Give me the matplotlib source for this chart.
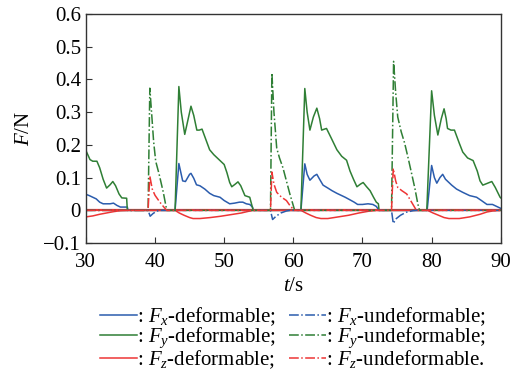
import numpy as np
import matplotlib
matplotlib.use('Agg')
import matplotlib.pyplot as plt

plt.rcParams['font.family'] = ['Liberation Serif', 'DejaVu Serif']
plt.rcParams['mathtext.fontset'] = 'custom'
plt.rcParams['mathtext.rm'] = 'Liberation Serif'
plt.rcParams['mathtext.it'] = 'Liberation Serif:italic'

# Datos (t [s], F [N])
t_fx_d = [30.0, 30.5, 31.0, 31.5, 32.0, 32.5, 33.5, 34.0, 34.5, 35.0, 36.0, 36.1,
          42.9, 43.45, 44.0, 44.4, 45.0, 45.2, 45.6, 46.0, 46.5, 47.2, 47.9, 48.5,
          49.4, 50.0, 50.8, 51.5, 52.2, 52.7, 53.2, 53.7, 54.1, 54.2,
          61.1, 61.66, 62.0, 62.4, 63.0, 63.4, 63.8, 64.3, 65.0, 65.6, 66.3, 67.0,
          67.5, 68.2, 68.8, 69.3, 70.0, 70.8, 71.5, 72.0, 72.4,
          79.35, 80.0, 80.4, 80.75, 81.2, 81.6, 82.0, 82.9, 83.6, 84.5, 85.5, 86.5,
          87.2, 88.0, 88.8, 89.4, 90.0]
fx_d = [0.049, 0.045, 0.040, 0.035, 0.025, 0.020, 0.020, 0.022, 0.015, 0.010, 0.010, 0.0,
        0.0, 0.143, 0.090, 0.088, 0.110, 0.113, 0.098, 0.078, 0.075, 0.065, 0.052, 0.045,
        0.040, 0.030, 0.020, 0.022, 0.025, 0.025, 0.020, 0.018, 0.010, 0.0,
        0.0, 0.142, 0.110, 0.092, 0.105, 0.110, 0.095, 0.077, 0.068, 0.060, 0.052, 0.045,
        0.040, 0.032, 0.025, 0.018, 0.018, 0.020, 0.018, 0.012, 0.0,
        0.0, 0.137, 0.100, 0.083, 0.100, 0.110, 0.095, 0.077, 0.065, 0.055, 0.045, 0.040,
        0.030, 0.018, 0.018, 0.012, 0.006]

t_fy_d = [30.0, 30.6, 31.0, 31.6, 32.0, 32.5, 33.0, 33.5, 33.9, 34.3, 34.8, 35.2, 35.9, 36.0,
          42.9, 43.45, 43.8, 44.3, 44.7, 45.2, 45.6, 46.05, 46.4, 46.8, 47.2, 47.9, 48.5,
          49.0, 49.4, 50.0, 50.4, 50.8, 51.1, 51.6, 52.0, 52.4, 53.0, 53.7, 54.2,
          61.1, 61.66, 62.0, 62.4, 62.9, 63.4, 63.8, 64.1, 64.5, 64.8, 65.5, 66.3, 67.0,
          67.7, 68.2, 68.7, 69.2, 69.7, 70.1, 70.6, 71.1, 71.6, 72.0, 72.3, 72.4,
          79.3, 80.0, 80.4, 80.9, 81.4, 81.8, 82.1, 82.3, 82.8, 83.3, 84.0, 84.5, 85.2,
          86.0, 86.6, 87.0, 87.4, 88.0, 88.7, 89.2, 89.9, 90.0]
fy_d = [0.183, 0.155, 0.150, 0.150, 0.130, 0.095, 0.068, 0.078, 0.088, 0.075, 0.050, 0.038, 0.037, 0.0,
        0.0, 0.378, 0.300, 0.232, 0.270, 0.318, 0.290, 0.245, 0.245, 0.248, 0.225, 0.185, 0.170,
        0.160, 0.152, 0.140, 0.115, 0.085, 0.072, 0.080, 0.087, 0.075, 0.045, 0.040, 0.0,
        0.0, 0.372, 0.300, 0.245, 0.285, 0.312, 0.280, 0.245, 0.248, 0.250, 0.220, 0.185, 0.165,
        0.153, 0.120, 0.095, 0.072, 0.080, 0.085, 0.072, 0.060, 0.040, 0.025, 0.020, 0.0,
        0.0, 0.365, 0.290, 0.230, 0.280, 0.310, 0.280, 0.250, 0.245, 0.245, 0.205, 0.178, 0.160,
        0.152, 0.120, 0.090, 0.077, 0.082, 0.088, 0.070, 0.040, 0.038]

t_fz_d = [30.0, 31.0, 32.0, 33.0, 34.0, 35.0, 36.0,
          42.9, 43.5, 44.2, 45.0, 45.5, 46.5, 48.0, 49.5, 51.0, 52.5, 53.5, 54.2,
          61.1, 61.8, 62.5, 63.3, 64.0, 65.0, 66.5, 68.0, 69.5, 70.8, 72.0,
          79.4, 80.2, 81.0, 81.8, 82.5, 84.0, 85.5, 87.0, 88.0, 88.8, 90.0]
fz_d = [-0.020, -0.017, -0.012, -0.008, -0.004, -0.001, 0.0,
        0.0, -0.008, -0.015, -0.022, -0.025, -0.025, -0.022, -0.018, -0.013, -0.008, -0.003, 0.0,
        0.0, -0.008, -0.015, -0.022, -0.025, -0.025, -0.020, -0.015, -0.008, -0.003, 0.0,
        0.0, -0.008, -0.015, -0.022, -0.025, -0.025, -0.020, -0.012, -0.005, -0.002, 0.0]

t_fx_u = [30.0, 39.0, 39.3, 39.7, 40.2, 40.6, 56.7, 57.0, 57.5, 58.2, 59.0, 59.5,
          74.2, 74.45, 74.9, 75.5, 76.3, 77.3, 77.8, 90.0]
fx_u = [0.0, 0.0, -0.018, -0.010, -0.003, 0.0, 0.0, -0.028, -0.018, -0.008, -0.002, 0.0,
        0.0, -0.040, -0.025, -0.015, -0.006, -0.001, 0.0, 0.0]

t_fy_u = [30.0, 39.0, 39.25, 39.5, 39.8, 40.1, 40.6, 41.2, 41.7,
          56.7, 56.9, 57.2, 57.6, 58.0, 58.5, 59.0, 59.5, 60.2,
          74.2, 74.5, 74.8, 75.1, 75.6, 76.1, 76.6, 77.1, 77.6, 78.0, 78.25, 90.0]
fy_u = [0.0, 0.0, 0.373, 0.300, 0.210, 0.150, 0.110, 0.055, 0.0,
        0.0, 0.420, 0.300, 0.190, 0.160, 0.130, 0.090, 0.050, 0.0,
        0.0, 0.455, 0.360, 0.285, 0.240, 0.205, 0.160, 0.113, 0.065, 0.020, 0.0, 0.0]

t_fz_u = [30.0, 39.0, 39.25, 39.6, 40.0, 40.7, 41.2, 41.7,
          56.7, 56.9, 57.2, 57.6, 58.3, 59.0, 59.6, 60.2,
          74.2, 74.45, 74.8, 75.1, 75.7, 76.4, 77.1, 77.8, 90.0]
fz_u = [0.0, 0.0, 0.105, 0.065, 0.046, 0.025, 0.012, 0.0,
        0.0, 0.117, 0.080, 0.055, 0.040, 0.030, 0.012, 0.0,
        0.0, 0.128, 0.090, 0.070, 0.060, 0.050, 0.025, 0.0, 0.0]

yticks = [-0.1, 0, 0.1, 0.2, 0.3, 0.4, 0.5, 0.6]
ytick_labels = ['\u22120.1', '0', '0.1', '0.2', '0.3', '0.4', '0.5', '0.6']
xticks = [30, 40, 50, 60, 70, 80, 90]

clr_x = '#2b5cad'
clr_y = '#2f7f35'
clr_z = '#ee3535'

fg = plt.figure(figsize=(5.11, 3.74), dpi=100)
ax = fg.add_axes([0.168, 0.350, 0.812, 0.613])

l1, = ax.plot(t_fx_d, fx_d, '-', color=clr_x, lw=1.1)
l2, = ax.plot(t_fy_d, fy_d, '-', color=clr_y, lw=1.1)
l3, = ax.plot(t_fz_d, fz_d, '-', color=clr_z, lw=1.1)
l4, = ax.plot(t_fx_u, fx_u, '-.', color=clr_x, lw=1.1)
l5, = ax.plot(t_fy_u, fy_u, '-.', color=clr_y, lw=1.1)
l6, = ax.plot(t_fz_u, fz_u, '-.', color=clr_z, lw=1.1)
ax.axhline(0, color=clr_z, lw=1.6, zorder=1.5)

ax.set_xlim(30, 90); ax.set_xticks(xticks)
ax.set_ylim(-0.1, 0.6); ax.set_yticks(yticks)
ax.set_yticklabels(ytick_labels)
ax.tick_params(direction='in', length=4, labelsize=15, top=False, right=False,
               color='#333333')
ax.tick_params(axis='x', pad=7)
for s in ax.spines.values():
    s.set_color('#333333')
    s.set_linewidth(1.0)
ax.set_xlabel('$t$/s', fontsize=15, labelpad=4)
ax.set_ylabel('$F$/N', fontsize=15, labelpad=7)

hs = [l1, l2, l3, l4, l5, l6]
lbs = [': $F_x$-deformable;', ': $F_y$-deformable;', ': $F_z$-deformable;',
       ': $F_x$-undeformable;', ': $F_y$-undeformable;', ': $F_z$-undeformable.']
fg.legend(hs, lbs, loc='upper center', bbox_to_anchor=(0.573, 0.212), ncol=2,
          fontsize=15, frameon=False, handlelength=1.8, handletextpad=0.0,
          columnspacing=0.6, labelspacing=-0.1, borderpad=0)

fg.savefig('out.png', dpi=100)
